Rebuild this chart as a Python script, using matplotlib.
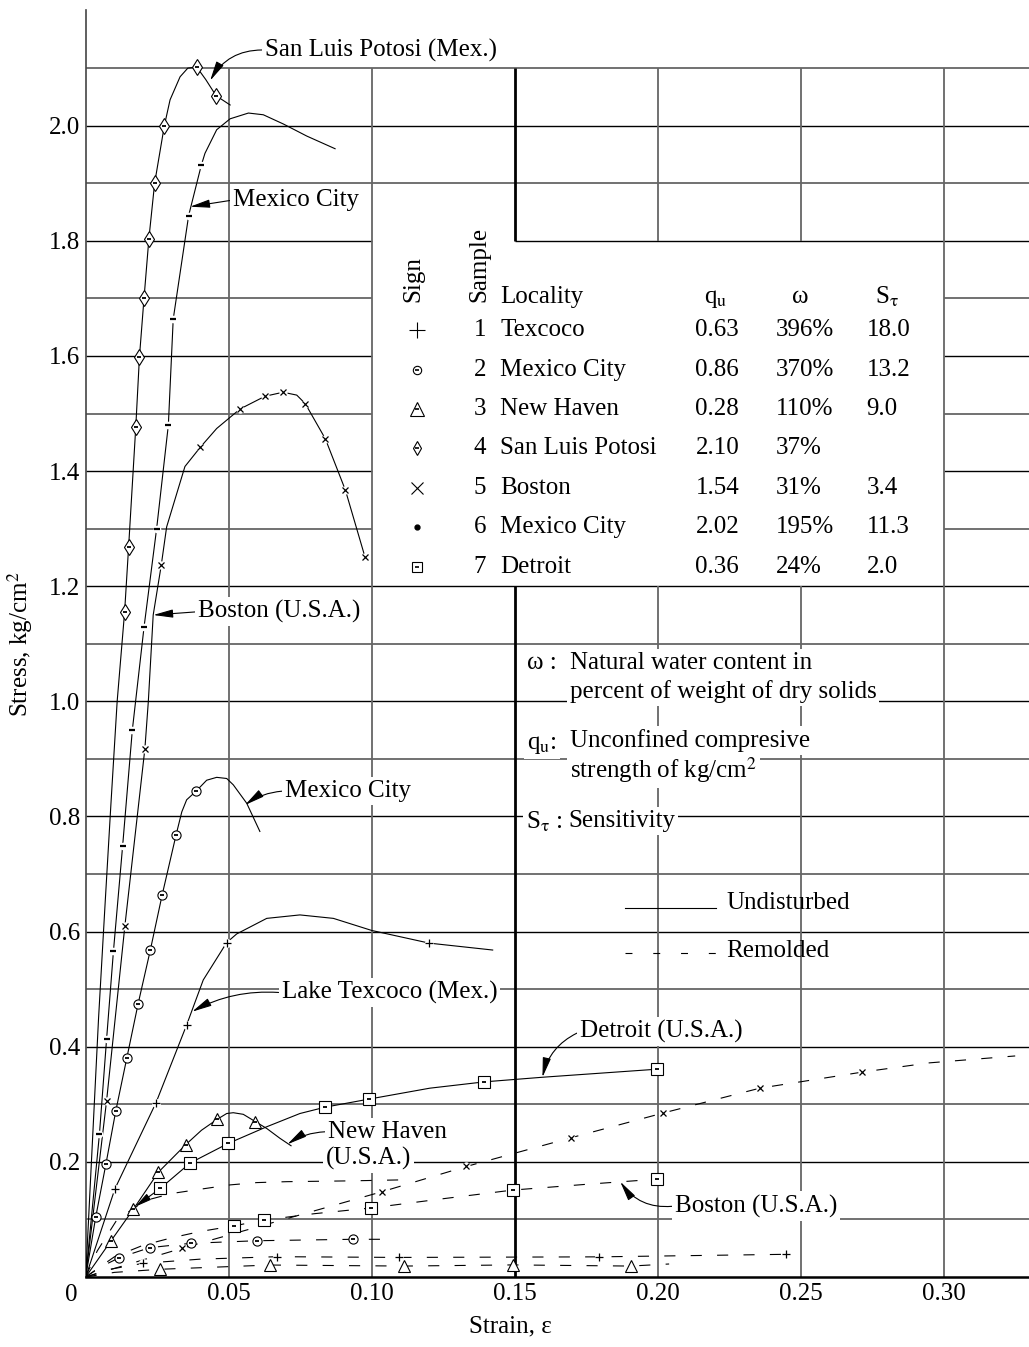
import matplotlib
matplotlib.use("Agg")
import matplotlib.pyplot as plt

plt.rcParams['font.family'] = ['Liberation Serif', 'DejaVu Serif']
plt.rcParams['mathtext.fontset'] = 'stix'
plt.rcParams['font.size'] = 18
plt.rcParams['lines.scale_dashes'] = False

# ---------------- axis data ----------------
x_ticks = [0.05, 0.10, 0.15, 0.20, 0.25, 0.30]
x_tick_labels = ["0.05", "0.10", "0.15", "0.20", "0.25", "0.30"]
y_ticks = [0.2, 0.4, 0.6, 0.8, 1.0, 1.2, 1.4, 1.6, 1.8, 2.0]
y_tick_labels = ["0.2", "0.4", "0.6", "0.8", "1.0", "1.2", "1.4", "1.6", "1.8", "2.0"]
grid_y = [0.1, 0.2, 0.3, 0.4, 0.5, 0.6, 0.7, 0.8, 0.9, 1.0, 1.1,
          1.2, 1.3, 1.4, 1.5, 1.6, 1.7, 1.8, 1.9, 2.0, 2.1]

# ---------------- undisturbed series ----------------
# 1 Texcoco (+)
tex_u_pts_x = [0.0102, 0.0246, 0.0353, 0.0493, 0.1201]
tex_u_pts_y = [0.153, 0.303, 0.438, 0.581, 0.580]
tex_u_curve_x = [0, 0.0102, 0.0246, 0.0353, 0.0411, 0.0493, 0.0528, 0.0633, 0.0749, 0.0866, 0.100, 0.1201, 0.1423]
tex_u_curve_y = [0, 0.153, 0.303, 0.438, 0.516, 0.581, 0.596, 0.623, 0.629, 0.623, 0.602, 0.580, 0.568]

# 2 Mexico City (circles)
mc2_u_pts_x = [0.0035, 0.0071, 0.0105, 0.0144, 0.0183, 0.0226, 0.0267, 0.0316, 0.0386]
mc2_u_pts_y = [0.104, 0.197, 0.288, 0.381, 0.474, 0.568, 0.663, 0.768, 0.844]
mc2_u_curve_x = [0, 0.0035, 0.0071, 0.0105, 0.0144, 0.0183, 0.0226, 0.0267, 0.0316, 0.0336, 0.0353,
                 0.0386, 0.0423, 0.0458, 0.0493, 0.0516, 0.0563, 0.0609]
mc2_u_curve_y = [0, 0.104, 0.197, 0.288, 0.381, 0.474, 0.568, 0.663, 0.768, 0.808, 0.829,
                 0.844, 0.863, 0.868, 0.866, 0.855, 0.823, 0.774]

# 3 New Haven (triangles)
nh_u_pts_x = [0.0088, 0.0167, 0.0254, 0.0350, 0.0460, 0.0593]
nh_u_pts_y = [0.0625, 0.118, 0.182, 0.230, 0.274, 0.270]
nh_u_curve_x = [0, 0.0088, 0.0167, 0.0254, 0.0350, 0.0405, 0.0460, 0.0493, 0.0516, 0.0551, 0.0593,
                0.0633, 0.0679, 0.0718]
nh_u_curve_y = [0, 0.0625, 0.118, 0.182, 0.230, 0.255, 0.274, 0.284, 0.2854, 0.2826, 0.270,
                0.258, 0.241, 0.228]

# 4 San Luis Potosi (diamonds)
slp_u_pts_x = [0.0136, 0.0150, 0.0175, 0.0188, 0.0204, 0.0221, 0.0241, 0.0275, 0.0388, 0.0456]
slp_u_pts_y = [1.155, 1.268, 1.476, 1.599, 1.701, 1.804, 1.900, 2.000, 2.102, 2.052]
slp_u_curve_x = [0, 0.0020, 0.0045, 0.0068, 0.0088, 0.0110, 0.0136, 0.0150, 0.0175, 0.0188, 0.0204,
                 0.0221, 0.0241, 0.0275, 0.0295, 0.0330, 0.0357, 0.0388, 0.0420, 0.0456, 0.0505]
slp_u_curve_y = [0, 0.20, 0.45, 0.65, 0.82, 1.00, 1.155, 1.268, 1.476, 1.599, 1.701,
                 1.804, 1.900, 2.000, 2.045, 2.085, 2.100, 2.102, 2.080, 2.052, 2.036]

# 5 Boston (x)
bos_u_pts_x = [0.0073, 0.0137, 0.0207, 0.0264, 0.0400, 0.0540, 0.0627, 0.0690, 0.0768, 0.0838, 0.0908, 0.0977]
bos_u_pts_y = [0.306, 0.610, 0.918, 1.236, 1.441, 1.508, 1.530, 1.537, 1.517, 1.456, 1.367, 1.250]
bos_u_curve_x = [0, 0.0073, 0.0137, 0.0207, 0.0219, 0.0236, 0.0264, 0.0283, 0.0347, 0.0400, 0.0458,
                 0.0540, 0.0627, 0.0690, 0.0738, 0.0768, 0.0838, 0.0908, 0.0977]
bos_u_curve_y = [0, 0.306, 0.610, 0.918, 1.000, 1.150, 1.236, 1.303, 1.408, 1.441, 1.474,
                 1.508, 1.530, 1.537, 1.532, 1.517, 1.456, 1.367, 1.250]

# 6 Mexico City (dash marks)
mc6_u_pts_x = [0.0048, 0.0073, 0.0097, 0.0129, 0.0163, 0.0204, 0.0248, 0.0289, 0.0306, 0.0360, 0.0404]
mc6_u_pts_y = [0.248, 0.413, 0.566, 0.748, 0.950, 1.129, 1.300, 1.480, 1.664, 1.844, 1.931]
mc6_u_curve_x = [0, 0.0048, 0.0073, 0.0097, 0.0129, 0.0163, 0.0204, 0.0248, 0.0289, 0.0306, 0.0360,
                 0.0404, 0.0417, 0.0458, 0.0505, 0.0569, 0.0621, 0.0691, 0.0773, 0.0872]
mc6_u_curve_y = [0, 0.248, 0.413, 0.566, 0.748, 0.950, 1.129, 1.300, 1.480, 1.664, 1.844,
                 1.931, 1.952, 1.993, 2.012, 2.022, 2.019, 2.003, 1.982, 1.960]

# 7 Detroit (squares)
det_u_pts_x = [0.0261, 0.0365, 0.0498, 0.0837, 0.0990, 0.1394, 0.1998]
det_u_pts_y = [0.154, 0.198, 0.232, 0.295, 0.309, 0.339, 0.361]
det_u_curve_x = [0.0261, 0.0365, 0.0498, 0.0633, 0.0749, 0.0837, 0.0990, 0.1203, 0.1394, 0.1597, 0.1998]
det_u_curve_y = [0.154, 0.198, 0.232, 0.261, 0.284, 0.295, 0.309, 0.328, 0.339, 0.347, 0.361]

# ---------------- remolded series ----------------
tex_r_pts_x = [0.0201, 0.0670, 0.1094, 0.1795, 0.2447]
tex_r_pts_y = [0.0238, 0.0353, 0.0340, 0.0350, 0.0394]
tex_r_curve_x = [0, 0.0080, 0.0201, 0.0400, 0.0670, 0.1094, 0.1795, 0.2447]
tex_r_curve_y = [0, 0.0130, 0.0238, 0.0310, 0.0353, 0.0340, 0.0350, 0.0394]

mc2_r_pts_x = [0.0118, 0.0224, 0.0367, 0.0598, 0.0934]
mc2_r_pts_y = [0.0336, 0.0510, 0.0585, 0.0630, 0.0655]
mc2_r_curve_x = [0, 0.0050, 0.0118, 0.0224, 0.0367, 0.0598, 0.0934, 0.1064]
mc2_r_curve_y = [0, 0.0170, 0.0336, 0.0510, 0.0585, 0.0630, 0.0655, 0.0655]

nh_r_pts_x = [0.0260, 0.0644, 0.1113, 0.1494, 0.1905]
nh_r_pts_y = [0.0134, 0.0208, 0.0190, 0.0210, 0.0190]
nh_r_curve_x = [0, 0.0100, 0.0260, 0.0644, 0.1113, 0.1494, 0.1905, 0.2040]
nh_r_curve_y = [0, 0.0080, 0.0134, 0.0208, 0.0190, 0.0210, 0.0190, 0.0226]

bos_r_pts_x = [0.0336, 0.1035, 0.1331, 0.1698, 0.2020, 0.2357, 0.2716]
bos_r_pts_y = [0.0498, 0.148, 0.192, 0.242, 0.285, 0.328, 0.356]
bos_r_curve_x = [0, 0.0336, 0.1035, 0.1331, 0.1698, 0.2020, 0.2357, 0.2716, 0.2950, 0.3250]
bos_r_curve_y = [0, 0.0498, 0.148, 0.192, 0.242, 0.285, 0.328, 0.356, 0.372, 0.384]

mc6_r_curve_x = [0, 0.0040, 0.0110, 0.0210, 0.0300, 0.0394, 0.0505, 0.0598, 0.0703, 0.0925, 0.1134]
mc6_r_curve_y = [0, 0.045, 0.100, 0.133, 0.145, 0.152, 0.160, 0.164, 0.1656, 0.167, 0.169]

det_r_pts_x = [0.0520, 0.0624, 0.0999, 0.1493, 0.1998]
det_r_pts_y = [0.089, 0.099, 0.120, 0.151, 0.170]
det_r_curve_x = [0, 0.0100, 0.0200, 0.0300, 0.0400, 0.0520, 0.0624, 0.0800, 0.0999, 0.1250, 0.1493, 0.1750, 0.1998]
det_r_curve_y = [0, 0.035, 0.055, 0.068, 0.079, 0.089, 0.099, 0.110, 0.120, 0.136, 0.151, 0.161, 0.170]

# ---------------- table data ----------------
sample_no = ["1", "2", "3", "4", "5", "6", "7"]
localities = ["Texcoco", "Mexico City", "New Haven", "San Luis Potosi", "Boston", "Mexico City", "Detroit"]
qu_vals = ["0.63", "0.86", "0.28", "2.10", "1.54", "2.02", "0.36"]
w_vals = ["396%", "370%", "110%", "37%", "31%", "195%", "24%"]
st_vals = ["18.0", "13.2", "9.0", "", "3.4", "11.3", "2.0"]

# ---------------- figure ----------------
W, H = 1029, 1347
fig = plt.figure(figsize=(W / 100, H / 100), dpi=100)
ax = fig.add_axes([85.7 / W, 70 / H, (W - 85.7) / W, 1267 / H])
XMAX = (W - 85.7) / 2860
ax.set_xlim(0, XMAX)
ax.set_ylim(0, 2.201)
for s in ['top', 'right']:
    ax.spines[s].set_visible(False)
ax.spines['left'].set_color('#444444')
ax.spines['left'].set_linewidth(1.2)
ax.spines['bottom'].set_linewidth(1.8)
ax.set_xticks(x_ticks, x_tick_labels)
ax.set_yticks(y_ticks, y_tick_labels)
ax.tick_params(axis='x', length=0, pad=4, labelsize=18)
ax.tick_params(axis='y', length=0, pad=4, labelsize=18)
fig.text(71.7 / W, 1 - 1295 / H, "0", ha='center', va='center', fontsize=18)
fig.text(20 / W, 1 - 644 / H, "Stress, kg/cm$^2$", rotation=90, ha='center', va='center', fontsize=18)
fig.text(510 / W, 1 - 1326.6 / H, "Strain, ε", ha='center', va='center', fontsize=18)

# ---------------- grid ----------------
GRAY = '#666666'
for yv in grid_y:
    major = abs(round(yv * 10) % 2) == 0
    col, lw = ('#000000', 1.0) if major else (GRAY, 1.3)
    if 1.25 < yv < 1.75:
        segs = [(0, 0.10), (0.30, XMAX)]
    elif abs(yv - 1.8) < 1e-6:
        segs = [(0, 0.10), (0.15, XMAX)]
    else:
        segs = [(0, XMAX)]
    for a, b in segs:
        ax.plot([a, b], [yv, yv], color=col, lw=lw, zorder=1, solid_capstyle='butt')
for xv in x_ticks:
    if abs(xv - 0.15) < 1e-6:
        for a, b in [(0, 1.2), (1.8, 2.1)]:
            ax.plot([xv, xv], [a, b], color='k', lw=2.0, zorder=1.2, solid_capstyle='butt')
    elif abs(xv - 0.20) < 1e-6 or abs(xv - 0.25) < 1e-6:
        for a, b in [(0, 1.2), (1.8, 2.1)]:
            ax.plot([xv, xv], [a, b], color=GRAY, lw=1.3, zorder=1, solid_capstyle='butt')
    else:
        ax.plot([xv, xv], [0, 2.1], color=GRAY, lw=1.3, zorder=1, solid_capstyle='butt')

# ---------------- series drawing ----------------
DASH = (0, (8, 11))


def draw(cx, cy, px=None, py=None, style=None, dashed=False, underlay=None, dot=False):
    ax.plot(cx, cy, color='k', lw=0.8, ls=DASH if dashed else '-', zorder=3)
    if px is None:
        return
    if underlay:
        ax.plot(px, py, ls='none', marker='o', ms=underlay, mfc='white', mec='none', zorder=4)
    ax.plot(px, py, ls='none', color='k', zorder=5, **style)
    if dot:
        ax.plot(px, py, ls='none', marker='_', ms=2.6, mew=1.3, color='k', zorder=6)


st_plus = dict(marker='+', ms=6, mew=0.9)
st_circ = dict(marker='o', ms=6.6, mfc='white', mec='k', mew=0.8)
st_tri = dict(marker='^', ms=8, mfc='white', mec='k', mew=0.8)
st_tri_r = dict(marker='^', ms=9, mfc='white', mec='k', mew=0.8)
st_dia = dict(marker='d', ms=8.6, mfc='white', mec='k', mew=0.8)
st_x = dict(marker='x', ms=4, mew=0.9)
st_dash = dict(marker='_', ms=3.8, mew=1.6)
st_sq = dict(marker='s', ms=8, mfc='white', mec='k', mew=0.8)

draw(tex_u_curve_x, tex_u_curve_y, tex_u_pts_x, tex_u_pts_y, st_plus, underlay=6.5)
draw(mc2_u_curve_x, mc2_u_curve_y, mc2_u_pts_x, mc2_u_pts_y, st_circ, dot=True)
draw(nh_u_curve_x, nh_u_curve_y, nh_u_pts_x, nh_u_pts_y, st_tri, dot=True)
draw(slp_u_curve_x, slp_u_curve_y, slp_u_pts_x, slp_u_pts_y, st_dia, dot=True)
draw(bos_u_curve_x, bos_u_curve_y, bos_u_pts_x, bos_u_pts_y, st_x, underlay=6)
draw(mc6_u_curve_x, mc6_u_curve_y, mc6_u_pts_x, mc6_u_pts_y, st_dash, underlay=5.5)
draw(det_u_curve_x, det_u_curve_y, det_u_pts_x, det_u_pts_y, st_sq, dot=True)
ax.annotate("", xy=(nh_u_pts_x[1] + 0.0006, nh_u_pts_y[1] + 0.004), xytext=(det_u_pts_x[0], det_u_pts_y[0]),
            arrowprops=dict(arrowstyle='-|>,head_length=1.0,head_width=0.22', mutation_scale=10,
                            lw=0.8, color='k', shrinkA=5, shrinkB=0), zorder=3)

draw(tex_r_curve_x, tex_r_curve_y, tex_r_pts_x, tex_r_pts_y, st_plus, dashed=True, underlay=6.5)
draw(mc2_r_curve_x, mc2_r_curve_y, mc2_r_pts_x, mc2_r_pts_y, st_circ, dashed=True, dot=True)
draw(nh_r_curve_x, nh_r_curve_y, nh_r_pts_x, nh_r_pts_y, st_tri_r, dashed=True)
draw(bos_r_curve_x, bos_r_curve_y, bos_r_pts_x, bos_r_pts_y, st_x, dashed=True, underlay=6)
draw(mc6_r_curve_x, mc6_r_curve_y, dashed=True)
draw(det_r_curve_x, det_r_curve_y, det_r_pts_x, det_r_pts_y, st_sq, dashed=True, dot=True)

# ---------------- labels with arrows ----------------
BOX = dict(boxstyle='square,pad=0.12', fc='white', ec='none')


def label(txt, txy, tip, rad):
    ax.annotate(txt, xy=tip, xytext=txy, ha='left', va='center', fontsize=18, bbox=BOX, zorder=2.5,
                arrowprops=dict(arrowstyle='-|>,head_length=1.2,head_width=0.25', mutation_scale=10,
                                lw=0.8, color='k', shrinkA=0, shrinkB=0, relpos=(0, 0.5),
                                connectionstyle=f'arc3,rad={rad}'))


label("San Luis Potosi (Mex.)", (0.0627, 2.1315), (0.0435, 2.0782), 0.3)
label("Mexico City", (0.0515, 1.8709), (0.0365, 1.8593), 0.0)
label("Boston (U.S.A.)", (0.0393, 1.1557), (0.0236, 1.1500), 0.0)
label("Mexico City", (0.0697, 0.8443), (0.0557, 0.8199), 0.15)
label("Lake Texcoco (Mex.)", (0.0685, 0.4939), (0.0372, 0.4609), 0.15)
label("New Haven", (0.0847, 0.2524), (0.0705, 0.2305), 0.15)
ax.text(0.0840, 0.2067, "(U.S.A.)", ha='left', va='center', fontsize=18, bbox=BOX, zorder=2.5)
label("Detroit (U.S.A.)", (0.1728, 0.4261), (0.1597, 0.3469), 0.25)
label("Boston (U.S.A.)", (0.2060, 0.1233), (0.1869, 0.1656), -0.3)

# ---------------- table ----------------
row_y = [1.645, 1.576, 1.508, 1.440, 1.371, 1.303, 1.233]
ax.text(0.1145, 1.694, "Sign", rotation=90, ha='center', va='bottom', fontsize=18, zorder=2.5)
ax.text(0.1375, 1.694, "Sample", rotation=90, ha='center', va='bottom', fontsize=18, zorder=2.5)
ax.text(0.1449, 1.6913, "Locality", ha='left', va='baseline', fontsize=18)
ax.text(0.2202, 1.6913, "q$_\\mathrm{u}$", ha='center', va='baseline', fontsize=18)
ax.text(0.2498, 1.6913, "ω", ha='center', va='baseline', fontsize=18)
ax.text(0.2802, 1.6913, "S$_\\mathrm{\\tau}$", ha='center', va='baseline', fontsize=18)
legend_marks = [
    dict(marker='+', ms=11, mew=0.8, color='k'),
    dict(marker='o', ms=6, mfc='white', mec='k', mew=0.8),
    dict(marker='^', ms=10, mfc='white', mec='k', mew=0.8),
    dict(marker='d', ms=7.5, mfc='white', mec='k', mew=0.8),
    dict(marker='x', ms=9, mew=0.8, color='k'),
    dict(marker='o', ms=3.5, color='k'),
    dict(marker='s', ms=6.5, mfc='white', mec='k', mew=0.8),
]
legend_dots = [False, True, True, True, False, False, True]
for i in range(7):
    yv = row_y[i]
    ax.plot([0.1158], [yv], ls='none', zorder=5, **legend_marks[i])
    if legend_dots[i]:
        ax.plot([0.1158], [yv], ls='none', marker='_', ms=2.4, mew=1.2, color='k', zorder=6)
    ax.text(0.1379, yv, sample_no[i], ha='center', va='center', fontsize=18)
    ax.text(0.1449, yv, localities[i], ha='left', va='center', fontsize=18)
    ax.text(0.2132, yv, qu_vals[i], ha='left', va='center', fontsize=18)
    ax.text(0.2412, yv, w_vals[i], ha='left', va='center', fontsize=18)
    ax.text(0.2730, yv, st_vals[i], ha='left', va='center', fontsize=18)

# ---------------- notes ----------------
ax.text(0.1692, 1.0672, "Natural water content in", ha='left', va='center', fontsize=18, bbox=BOX, zorder=2.5)
ax.text(0.1692, 1.0168, "percent of weight of dry solids", ha='left', va='center', fontsize=18, bbox=BOX, zorder=2.5)
ax.text(0.1692, 0.9317, "Unconfined compresive", ha='left', va='center', fontsize=18, bbox=BOX, zorder=2.5)
ax.text(0.1692, 0.8807, "strength of kg/cm$^2$", ha='left', va='center', fontsize=18, bbox=BOX, zorder=2.5)
ax.text(0.1688, 0.7927, "Sensitivity", ha='left', va='center', fontsize=18, bbox=BOX, zorder=2.5)
ax.text(0.1543, 1.0672, "ω :", ha='left', va='center', fontsize=18, bbox=BOX, zorder=2.6)
ax.text(0.1543, 0.9170, "q$_\\mathrm{u}$:", ha='left', va='baseline', fontsize=18, bbox=BOX, zorder=2.6)
ax.text(0.1538, 0.7781, "S$_\\mathrm{\\tau}$ :", ha='left', va='baseline', fontsize=18, bbox=BOX, zorder=2.6)

ax.plot([0.1887, 0.2204], [0.6415, 0.6415], color='k', lw=0.8, zorder=3)
ax.text(0.2242, 0.6492, "Undisturbed", ha='left', va='center', fontsize=18, zorder=2.5)
ax.plot([0.1887, 0.2204], [0.5623, 0.5623], color='k', lw=0.8, ls=(0, (5, 15)), zorder=3)
ax.text(0.2239, 0.5668, "Remolded", ha='left', va='center', fontsize=18, zorder=2.5)

fig.savefig("out.png", dpi=100)
